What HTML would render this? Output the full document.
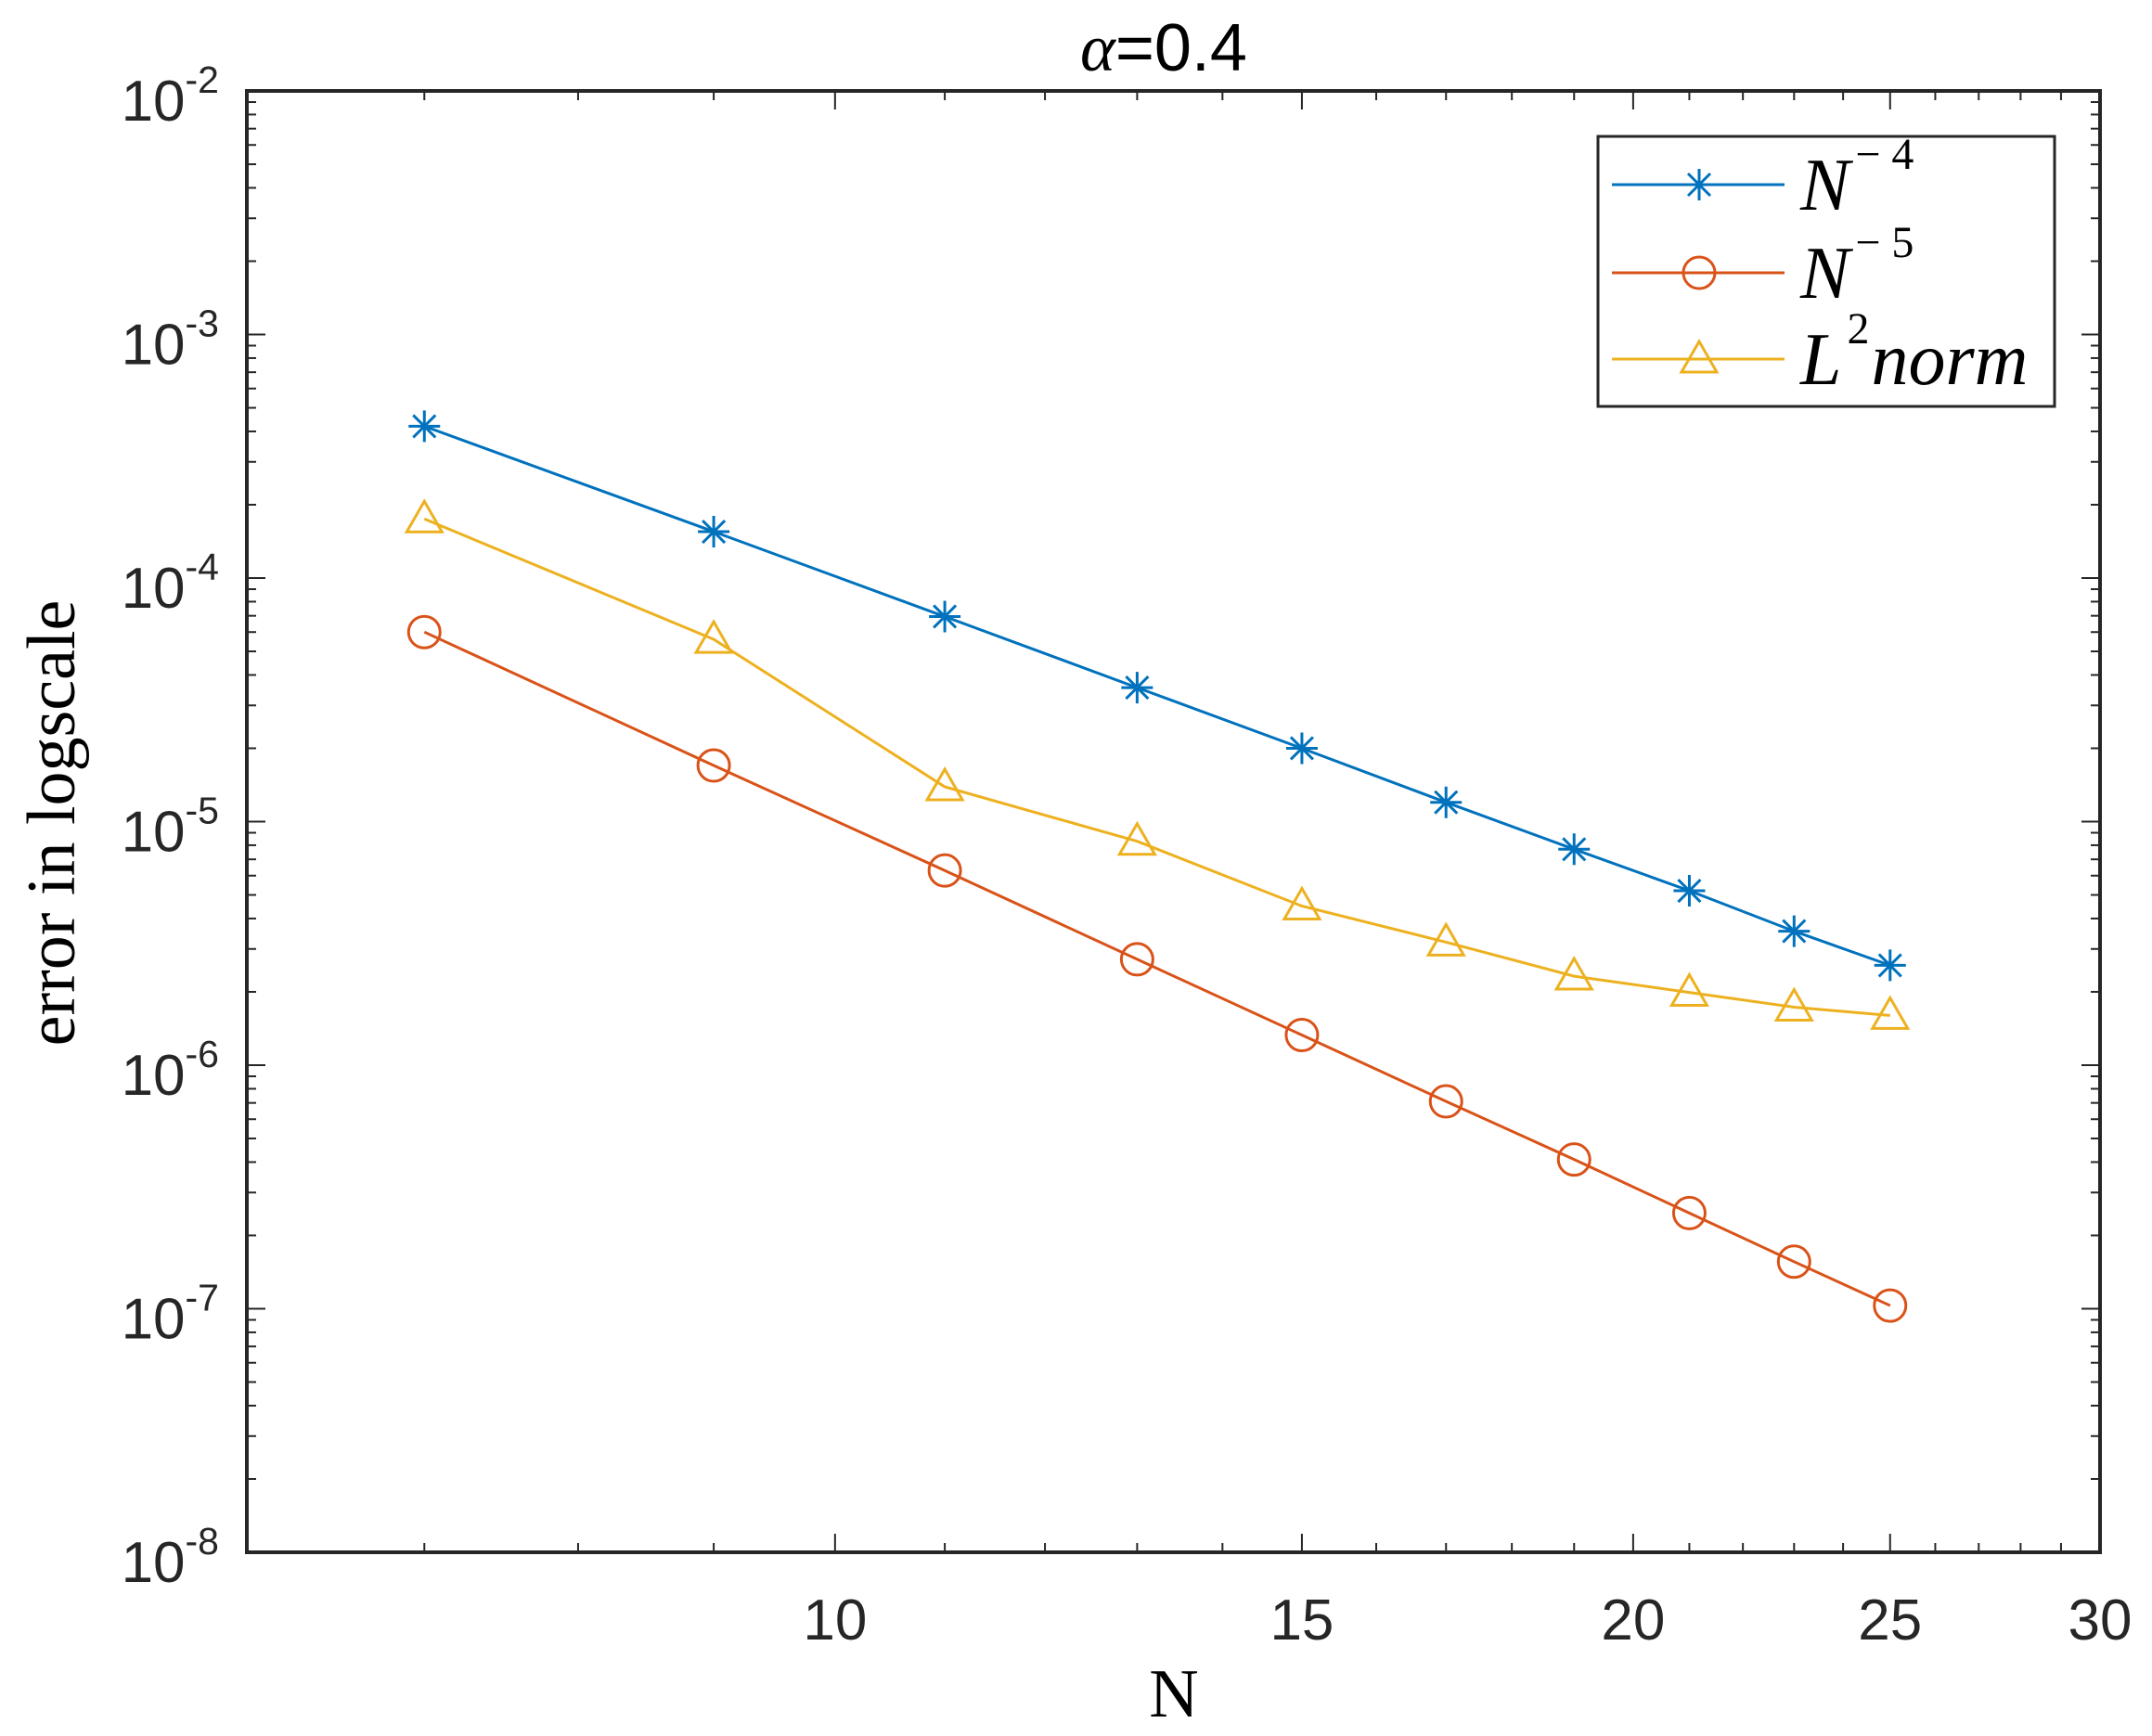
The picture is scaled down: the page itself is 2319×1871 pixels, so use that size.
<!DOCTYPE html>
<html><head><meta charset="utf-8">
<style>
html,body{margin:0;padding:0;background:#fff;}
svg{display:block;}
.tk{font-family:"Liberation Sans",Arial,sans-serif;font-size:62px;fill:#262626;}
.sup{font-size:41px;}
</style></head>
<body>
<svg id="chart" width="2319" height="1871" viewBox="0 0 2319 1871" xmlns="http://www.w3.org/2000/svg">
<rect x="0" y="0" width="2319" height="1871" fill="#fff"/>
<g id="plot"></g>
</svg>
<script>
const N = [7, 9, 11, 13, 15, 17, 19, 21, 23, 25];
const seriesN4 = [4.2e-4, 1.55e-4, 6.95e-5, 3.55e-5, 2.0e-5, 1.2e-5, 7.7e-6, 5.2e-6, 3.55e-6, 2.57e-6];
const seriesN5 = [6.0e-5, 1.7e-5, 6.3e-6, 2.72e-6, 1.33e-6, 7.1e-7, 4.1e-7, 2.47e-7, 1.56e-7, 1.03e-7];
const seriesL2 = [1.75e-4, 5.6e-5, 1.39e-5, 8.3e-6, 4.5e-6, 3.2e-6, 2.32e-6, 1.99e-6, 1.73e-6, 1.6e-6];
const xTickLabels = [10, 15, 20, 25, 30];
const yTickExps = [-2, -3, -4, -5, -6, -7, -8];

const L = 266, R = 2263, T = 98, B = 1673;
const XMIN = 6, XMAX = 30, YMIN = -8, YMAX = -2;
function xs(v){ return L + Math.log(v / XMIN) / Math.log(XMAX / XMIN) * (R - L); }
function ys(v){ return B - (Math.log10(v) - YMIN) / (YMAX - YMIN) * (B - T); }

const NS = "http://www.w3.org/2000/svg";
const g = document.getElementById('plot');
function el(tag, attrs, parent){
  const e = document.createElementNS(NS, tag);
  for (const k in attrs) e.setAttribute(k, attrs[k]);
  (parent || g).appendChild(e);
  return e;
}

const box = el('rect', {x:L, y:T, width:R-L, height:B-T, fill:'none', stroke:'#262626', 'stroke-width':4});



for (let v = 7; v <= 30; v++) {
  const major = xTickLabels.includes(v);
  const len = major ? 20 : 10;
  const x = xs(v);
  const t1 = el('line', {x1:x, y1:B, x2:x, y2:B-len, stroke:'#262626', 'stroke-width':2});
  
  
  const t2 = el('line', {x1:x, y1:T, x2:x, y2:T+len, stroke:'#262626', 'stroke-width':2});
  
  
}
xTickLabels.forEach(v => {
  const t = el('text', {x:xs(v), y:1767, 'text-anchor':'middle', class:'tk'});
  t.textContent = v;
  
  
});

for (let e = YMIN; e < YMAX; e++) {
  for (let m = 1; m <= 9; m++) {
    const v = m * Math.pow(10, e);
    const y = ys(v);
    const len = m === 1 ? 20 : 10;
    const a = el('line', {x1:L, y1:y, x2:L+len, y2:y, stroke:'#262626', 'stroke-width':2});
    
    
    const b = el('line', {x1:R, y1:y, x2:R-len, y2:y, stroke:'#262626', 'stroke-width':2});
    
    
  }
}
yTickExps.forEach(e => {
  const y = ys(Math.pow(10, e));
  const t = el('text', {x:236, y:y+32, 'text-anchor':'end', class:'tk'});
  
  
  const s1 = el('tspan', {}, t); s1.textContent = '10';
  const s2 = el('tspan', {class:'sup', dy:'-30'}, t); s2.textContent = String(e);
});

function marker(type, x, y, color, parent){
  const r = 17;
  if (type === 'star') {
    return el('path', {d:`M${x-r} ${y}H${x+r}M${x} ${y-r}V${y+r}M${x-12} ${y-12}L${x+12} ${y+12}M${x-12} ${y+12}L${x+12} ${y-12}`, stroke:color, 'stroke-width':3, fill:'none'}, parent);
  } else if (type === 'circle') {
    return el('ellipse', {cx:x, cy:y, rx:r, ry:r, stroke:color, 'stroke-width':3, fill:'none'}, parent);
  } else {
    return el('path', {d:`M${x} ${y-r-2}L${x+r+2} ${y+r-3}L${x-r-2} ${y+r-3}Z`, stroke:color, 'stroke-width':3, fill:'none'}, parent);
  }
}

const seriesDefs = [
  {name:'series-n4', vals:seriesN4, color:'#0072BD', m:'star'},
  {name:'series-n5', vals:seriesN5, color:'#D95319', m:'circle'},
  {name:'series-l2norm', vals:seriesL2, color:'#EDB120', m:'tri'}
];
seriesDefs.forEach(s => {
  const sg = el('g', {});
  
  
  const pts = N.map((n,i) => xs(n).toFixed(1) + ',' + ys(s.vals[i]).toFixed(1)).join(' ');
  const pl = el('polyline', {points:pts, fill:'none', stroke:s.color, 'stroke-width':3}, sg);
  
  
  N.forEach((n,i) => {
    const mk = marker(s.m, xs(n), ys(s.vals[i]), s.color, sg);
    
    
  });
});

const lg = el('g', {});


const lb = el('rect', {x:1722, y:147, width:492, height:291, fill:'#fff', stroke:'#262626', 'stroke-width':3}, lg);


const legRows = [
  {y:199, color:'#0072BD', m:'star', base:'N', sup:'\u2212 4', rest:'', name:'legend-entry-n4'},
  {y:294, color:'#D95319', m:'circle', base:'N', sup:'\u2212 5', rest:'', name:'legend-entry-n5'},
  {y:387, color:'#EDB120', m:'tri', base:'L', sup:'2', rest:'norm', name:'legend-entry-l2norm'}
];
legRows.forEach(r => {
  const eg = el('g', {}, lg);
  
  
  el('line', {x1:1737, y1:r.y, x2:1923, y2:r.y, stroke:r.color, 'stroke-width':3}, eg);
  marker(r.m, 1831, r.y, r.color, eg);
  const t = el('text', {x:1940, y:r.y+27, 'font-family':'"Liberation Serif",serif', 'font-style':'italic', 'font-size':'80', fill:'#000'}, eg);
  const a = el('tspan', {}, t); a.textContent = r.base;
  const b = el('tspan', {dx:'6', dy:'-44', 'font-size':'48', 'font-style':'normal'}, t); b.textContent = r.sup;
  if (r.rest) { const c = el('tspan', {dx:'2', dy:'44'}, t); c.textContent = r.rest; }
});

const ti = el('text', {x:1254, y:76, 'text-anchor':'middle', 'font-family':'"Liberation Sans",sans-serif', 'font-size':'72', fill:'#000'});


const ta = el('tspan', {'font-family':'"Liberation Serif",serif', 'font-style':'italic'}, ti); ta.textContent = 'α';
const tb = el('tspan', {}, ti); tb.textContent = '=0.4';

const xl = el('text', {x:1265, y:1850, 'text-anchor':'middle', 'font-family':'"Liberation Serif",serif', 'font-size':'74', fill:'#000'});
xl.textContent = 'N';



const yl = el('text', {x:0, y:0, 'text-anchor':'middle', 'font-family':'"Liberation Serif",serif', 'font-size':'74', fill:'#000', transform:'translate(80,887) rotate(-90)'});
yl.textContent = 'error in logscale';


</script>
</body></html>
